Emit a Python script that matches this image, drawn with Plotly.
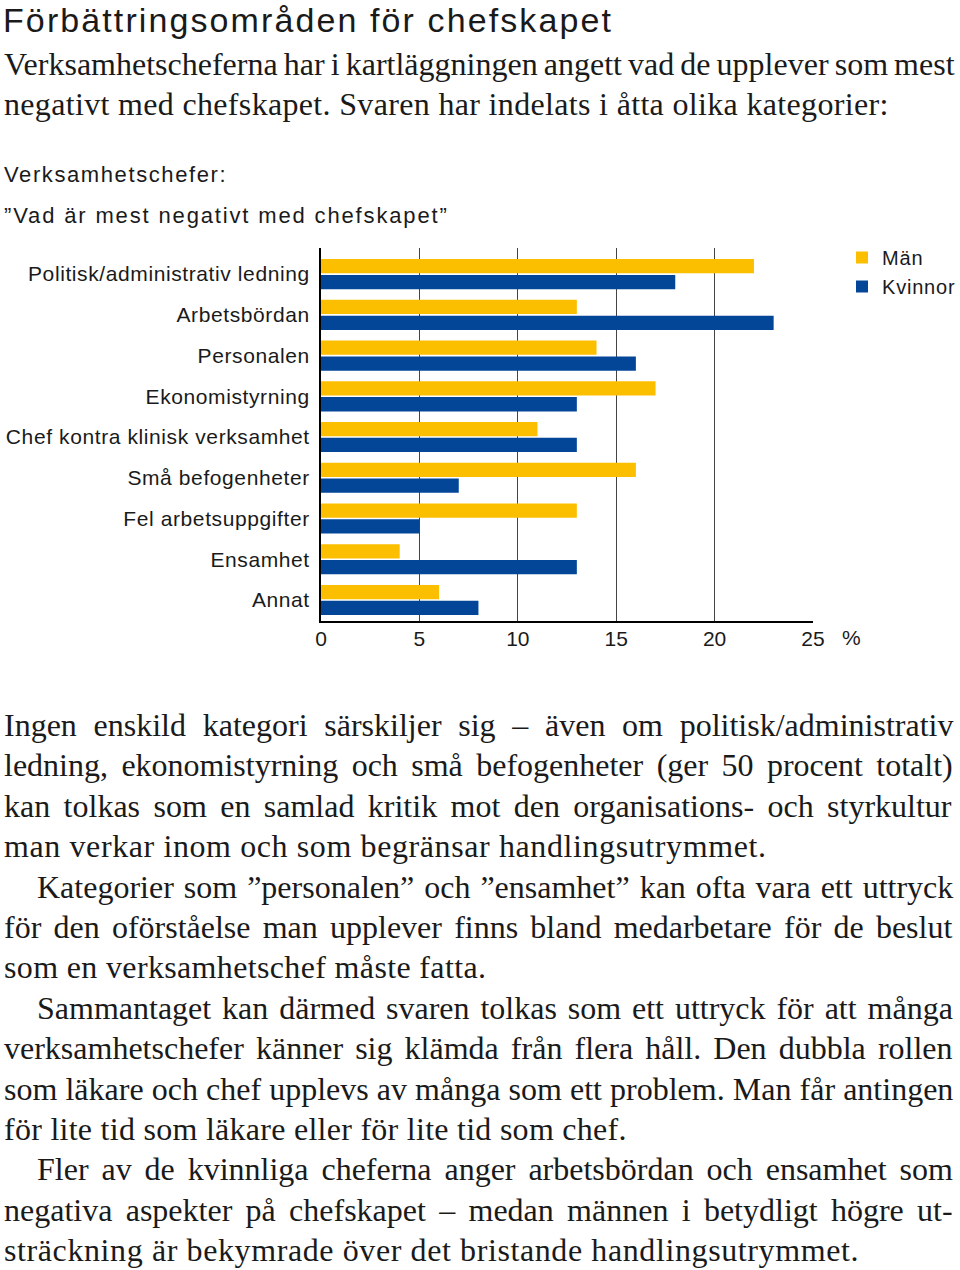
import plotly.graph_objects as go

W, H = 960, 1270

categories = [
    "Politisk/administrativ ledning",
    "Arbetsbördan",
    "Personalen",
    "Ekonomistyrning",
    "Chef kontra klinisk verksamhet",
    "Små befogenheter",
    "Fel arbetsuppgifter",
    "Ensamhet",
    "Annat",
]
man_values = [22, 13, 14, 17, 11, 16, 13, 4, 6]
kvinnor_values = [18, 23, 16, 13, 13, 7, 5, 13, 8]
x_ticks = [0, 5, 10, 15, 20, 25]
series_names = ["Män", "Kvinnor"]

title_text = "Förbättringsområden för chefskapet"
intro_lines = [
    "Verksamhetscheferna har i kartläggningen angett vad de upplever som mest",
    "negativt med chefskapet. Svaren har indelats i åtta olika kategorier:",
]
subtitle_lines = ["Verksamhetschefer:", "”Vad är mest negativt med chefskapet”"]
body_lines = [
    "Ingen enskild kategori särskiljer sig – även om politisk/administrativ",
    "ledning, ekonomistyrning och små befogenheter (ger 50 procent totalt)",
    "kan tolkas som en samlad kritik mot den organisations- och styrkultur",
    "man verkar inom och som begränsar handlingsutrymmet.",
    "Kategorier som ”personalen” och ”ensamhet” kan ofta vara ett uttryck",
    "för den oförståelse man upplever finns bland medarbetare för de beslut",
    "som en verksamhetschef måste fatta.",
    "Sammantaget kan därmed svaren tolkas som ett uttryck för att många",
    "verksamhetschefer känner sig klämda från flera håll. Den dubbla rollen",
    "som läkare och chef upplevs av många som ett problem. Man får antingen",
    "för lite tid som läkare eller för lite tid som chef.",
    "Fler av de kvinnliga cheferna anger arbetsbördan och ensamhet som",
    "negativa aspekter på chefskapet – medan männen i betydligt högre ut-",
    "sträckning är bekymrade över det bristande handlingsutrymmet.",
]

# typographic layout (not data): paragraph indents and justification spacing
body_indent = [False, False, False, False, True, False, False, True, False, False, False, True, False, False]
body_word_spacing = [8.7, 5.4, 5.4, 0, 2.0, 4.2, 0, 2.9, 4.1, 0.1, 0, 4.9, 5.3, 0]
body_letter_spacing = [0, 0, 0, 0.6, 0, 0, 0.35, 0, 0, 0, 0.27, 0, 0, 0.6]
intro_word_spacing = [-1.9, 0]
intro_letter_spacing = [0, 0.33]
subtitle_letter_spacing = [1.6, 1.85]

YELLOW = "#FCBF00"
BLUE = "#034698"
TEXT = "#1a1a1a"
SANS = "Liberation Sans, Arial, sans-serif"
SERIF = "Liberation Serif, Times New Roman, serif"


def px(x):
    return x / W


def py(y):
    return 1 - y / H


def sty(text, ls=0.0, ws=0.0):
    parts = []
    if ls:
        parts.append(f"letter-spacing:{ls}px")
    if ws:
        parts.append(f"word-spacing:{ws}px")
    if not parts:
        return text
    return f'<span style="{";".join(parts)}">{text}</span>'


idx = list(range(len(categories)))

fig = go.Figure()
fig.add_trace(go.Bar(
    name=sty(series_names[0], ls=0.8), y=idx, x=man_values, orientation="h",
    marker=dict(color=YELLOW, line=dict(width=0)), width=0.35, offset=-0.37,
))
fig.add_trace(go.Bar(
    name=sty(series_names[1], ls=0.8), y=idx, x=kvinnor_values, orientation="h",
    marker=dict(color=BLUE, line=dict(width=0)), width=0.35, offset=0.02,
))


def ann(text, x, y, family, size, pad=1):
    return dict(text=text, x=px(x), y=py(y), xref="paper", yref="paper",
                xanchor="left", yanchor="middle", align="left", showarrow=False,
                borderpad=pad, font=dict(family=family, size=size, color=TEXT))


annotations = [ann(sty(title_text, ls=2.1), 2, 20, SANS, 34, pad=0)]
for i, t in enumerate(intro_lines):
    annotations.append(ann(sty(t, ls=intro_letter_spacing[i], ws=intro_word_spacing[i]),
                           2, 64 + 40 * i, SERIF, 32))
for i, t in enumerate(subtitle_lines):
    annotations.append(ann(sty(t, ls=subtitle_letter_spacing[i]), 2, 175 + 40 * i, SANS, 22))
for i, t in enumerate(body_lines):
    annotations.append(ann(sty(t, ls=body_letter_spacing[i], ws=body_word_spacing[i]),
                           35 if body_indent[i] else 2, 725 + 40.4 * i, SERIF, 32))
annotations.append(dict(text="%", x=px(851), y=py(637), xref="paper", yref="paper",
                        xanchor="center", yanchor="middle", showarrow=False,
                        font=dict(family=SANS, size=21, color=TEXT)))

fig.update_layout(
    width=W, height=H,
    margin=dict(l=0, r=0, t=0, b=0, autoexpand=False),
    paper_bgcolor="white", plot_bgcolor="white",
    barmode="overlay",
    showlegend=True,
    legend=dict(x=px(842), y=py(238), xanchor="left", yanchor="top",
                font=dict(family=SANS, size=20, color=TEXT),
                bgcolor="rgba(0,0,0,0)", traceorder="normal"),
    annotations=annotations,
    xaxis=dict(domain=[px(321), px(813)], range=[0, 25], tickvals=x_ticks,
               showgrid=True, gridcolor="#444444", gridwidth=1,
               zeroline=False, showline=True, linecolor="black", linewidth=2,
               ticks="", ticklabelstandoff=-2,
               tickfont=dict(family=SANS, size=21, color=TEXT), anchor="y"),
    yaxis=dict(domain=[py(621), py(248)], range=[8.515, -0.64],
               tickvals=idx, ticktext=[sty(c, ls=0.6) for c in categories],
               showgrid=False, zeroline=False,
               showline=True, linecolor="black", linewidth=2, ticks="",
               ticklabelstandoff=5,
               tickfont=dict(family=SANS, size=21, color=TEXT), anchor="x"),
)

fig.write_html("out.html")
